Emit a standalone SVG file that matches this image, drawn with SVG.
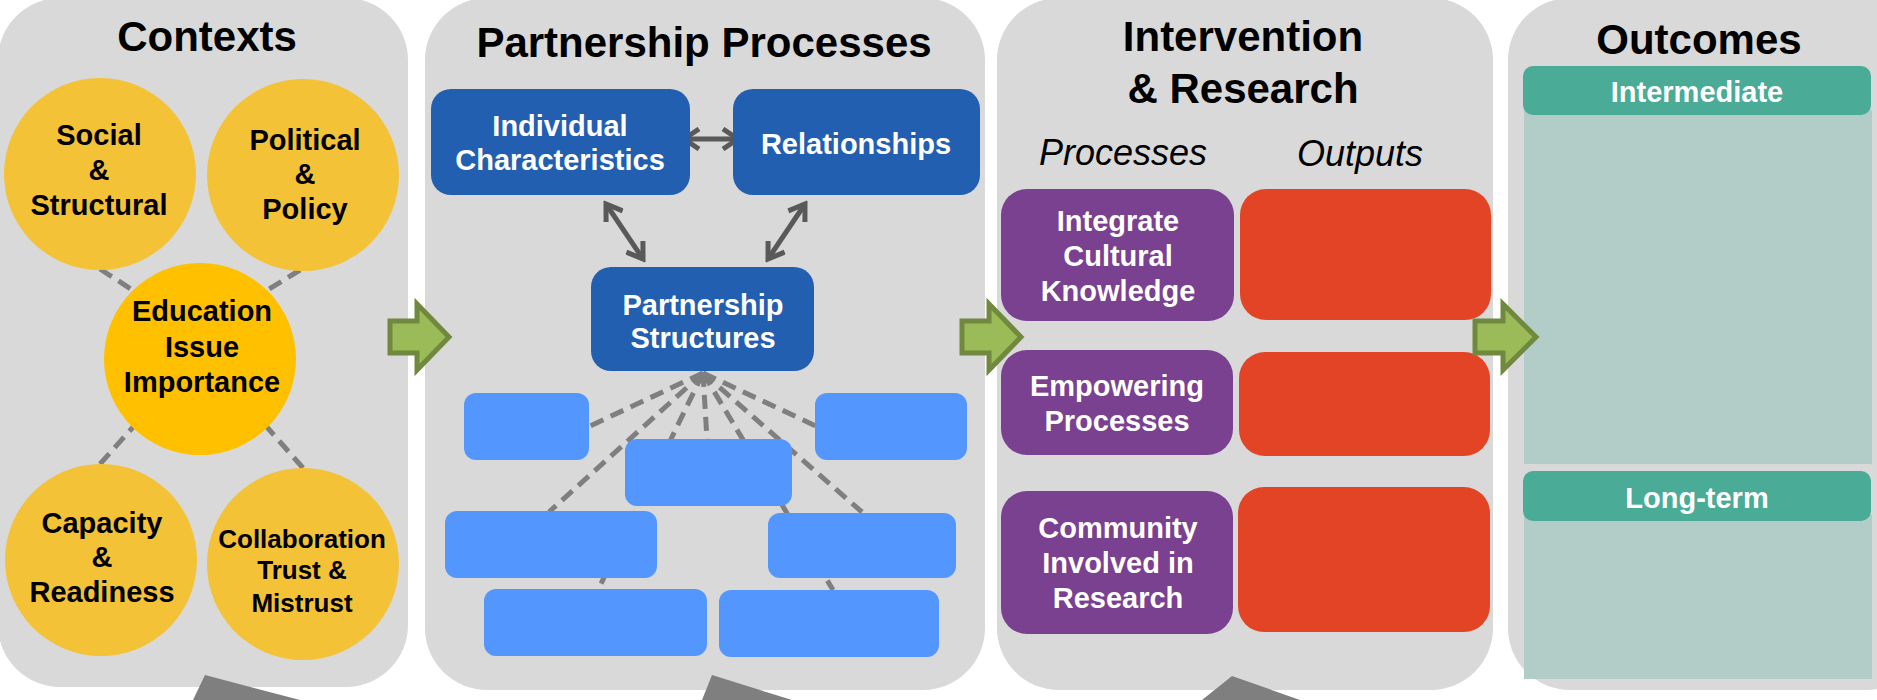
<svg xmlns="http://www.w3.org/2000/svg" width="1877" height="700" viewBox="0 0 1877 700">
<defs>
<style>
.panel{fill:#d9d9d9}
.title{font-family:"Liberation Sans",Arial,sans-serif;font-weight:bold;font-size:42px;fill:#000;text-anchor:middle}
.ctx{fill:#f4c237}
.ctxc{fill:#ffc000}
.ctxt{font-family:"Liberation Sans",Arial,sans-serif;font-weight:bold;font-size:29px;fill:#000;text-anchor:middle}
.dark{fill:#225fb0}
.light{fill:#5397fe}
.wt{font-family:"Liberation Sans",Arial,sans-serif;font-weight:bold;font-size:29px;fill:#fff;text-anchor:middle}
.purple{fill:#7a4190}
.red{fill:#e34425}
.sub{font-family:"Liberation Sans",Arial,sans-serif;font-style:italic;font-size:36px;fill:#000;text-anchor:middle}
.hdr{fill:#4aab96}
.body{fill:#b2cdc7}
.dash{stroke:#7f7f7f;stroke-width:5;stroke-dasharray:14 8;fill:none}
.dbl{stroke:#595959;stroke-width:5;fill:none;marker-start:url(#chev);marker-end:url(#chev)}
.green{fill:#9bbb59;stroke:#71893f;stroke-width:5}
.gray{fill:#7f7f7f}
</style>
<marker id="chev" viewBox="0 0 24 24" refX="20" refY="12" markerWidth="24" markerHeight="24" markerUnits="userSpaceOnUse" orient="auto-start-reverse">
<path d="M5,2 L20,12 L5,22" fill="none" stroke="#595959" stroke-width="5"/>
</marker>
</defs>

<g id="panel-contexts">
<rect class="panel" x="-2" y="-2" width="410" height="689" rx="62"/>
<text class="title" x="207" y="51">Contexts</text>
</g>
<g id="panel-partnership">
<rect class="panel" x="425" y="-2" width="560" height="692" rx="62"/>
<text class="title" x="704" y="57">Partnership Processes</text>
</g>
<g id="panel-intervention">
<rect class="panel" x="997" y="-2" width="496" height="692" rx="62"/>
<text class="title" x="1243" y="51">Intervention</text>
<text class="title" x="1243" y="103">&amp; Research</text>
<text class="sub" x="1123" y="165">Processes</text>
<text class="sub" x="1360" y="166">Outputs</text>
</g>
<g id="panel-outcomes">
<rect class="panel" x="1508" y="-2" width="420" height="692" rx="62"/>
<text class="title" x="1699" y="54">Outcomes</text>
</g>

<g id="connectors">
<line class="dash" x1="100" y1="269" x2="134" y2="291"/>
<line class="dash" x1="300" y1="270" x2="266" y2="291"/>
<line class="dash" x1="100" y1="464" x2="134" y2="426"/>
<line class="dash" x1="303" y1="468" x2="266" y2="426"/>
<line class="dash" x1="703" y1="373" x2="590" y2="426"/>
<line class="dash" x1="703" y1="373" x2="549" y2="512"/>
<line class="dash" x1="703" y1="373" x2="598" y2="590"/>
<line class="dash" x1="703" y1="373" x2="707" y2="440"/>
<line class="dash" x1="703" y1="373" x2="833" y2="590"/>
<line class="dash" x1="703" y1="373" x2="862" y2="512"/>
<line class="dash" x1="703" y1="373" x2="816" y2="426"/>
<line class="dbl" x1="684" y1="139" x2="738" y2="139"/>
<line class="dbl" x1="606" y1="204" x2="643" y2="259"/>
<line class="dbl" x1="805" y1="204" x2="768" y2="259"/>
</g>

<g id="node-social">
<circle class="ctx" cx="100" cy="174" r="96"/>
<text class="ctxt" x="99" y="145">Social</text>
<text class="ctxt" x="99" y="180">&amp;</text>
<text class="ctxt" x="99" y="215">Structural</text>
</g>
<g id="node-political">
<circle class="ctx" cx="303" cy="175" r="96"/>
<text class="ctxt" x="305" y="150">Political</text>
<text class="ctxt" x="305" y="184">&amp;</text>
<text class="ctxt" x="305" y="219">Policy</text>
</g>
<g id="node-capacity">
<circle class="ctx" cx="101" cy="560" r="96"/>
<text class="ctxt" x="102" y="533">Capacity</text>
<text class="ctxt" x="102" y="567">&amp;</text>
<text class="ctxt" x="102" y="602">Readiness</text>
</g>
<g id="node-collaboration">
<circle class="ctx" cx="303" cy="564" r="96"/>
<text class="ctxt" x="302" y="548" style="font-size:26px">Collaboration</text>
<text class="ctxt" x="302" y="579" style="font-size:26px">Trust &amp;</text>
<text class="ctxt" x="302" y="612" style="font-size:26px">Mistrust</text>
</g>
<g id="node-education">
<circle class="ctxc" cx="200" cy="359" r="96"/>
<text class="ctxt" x="202" y="321">Education</text>
<text class="ctxt" x="202" y="357">Issue</text>
<text class="ctxt" x="202" y="392">Importance</text>
</g>

<g id="node-individual">
<rect class="dark" x="431" y="89" width="259" height="106" rx="20"/>
<text class="wt" x="560" y="136">Individual</text>
<text class="wt" x="560" y="170">Characteristics</text>
</g>
<g id="node-relationships">
<rect class="dark" x="733" y="89" width="247" height="106" rx="20"/>
<text class="wt" x="856" y="154">Relationships</text>
</g>
<g id="node-structures">
<rect class="dark" x="591" y="267" width="223" height="104" rx="20"/>
<text class="wt" x="703" y="315">Partnership</text>
<text class="wt" x="703" y="348">Structures</text>
</g>
<g id="node-b1"><rect class="light" x="464" y="393" width="125" height="67" rx="12"/></g>
<g id="node-b2"><rect class="light" x="815" y="393" width="152" height="67" rx="12"/></g>
<g id="node-b3"><rect class="light" x="625" y="439" width="167" height="67" rx="12"/></g>
<g id="node-b4"><rect class="light" x="445" y="511" width="212" height="67" rx="12"/></g>
<g id="node-b5"><rect class="light" x="768" y="513" width="188" height="65" rx="12"/></g>
<g id="node-b6"><rect class="light" x="484" y="589" width="223" height="67" rx="12"/></g>
<g id="node-b7"><rect class="light" x="719" y="590" width="220" height="67" rx="12"/></g>

<g id="node-integrate">
<rect class="purple" x="1001" y="189" width="233" height="132" rx="26"/>
<text class="wt" x="1118" y="231">Integrate</text>
<text class="wt" x="1118" y="266">Cultural</text>
<text class="wt" x="1118" y="301">Knowledge</text>
</g>
<g id="node-empowering">
<rect class="purple" x="1001" y="350" width="232" height="105" rx="26"/>
<text class="wt" x="1117" y="396">Empowering</text>
<text class="wt" x="1117" y="431">Processes</text>
</g>
<g id="node-community">
<rect class="purple" x="1001" y="491" width="232" height="143" rx="26"/>
<text class="wt" x="1118" y="538">Community</text>
<text class="wt" x="1118" y="573">Involved in</text>
<text class="wt" x="1118" y="608">Research</text>
</g>
<g id="node-out1"><rect class="red" x="1240" y="189" width="251" height="131" rx="26"/></g>
<g id="node-out2"><rect class="red" x="1239" y="352" width="251" height="104" rx="26"/></g>
<g id="node-out3"><rect class="red" x="1238" y="487" width="252" height="145" rx="26"/></g>

<g id="node-intermediate">
<rect class="body" x="1524" y="110" width="348" height="354"/>
<rect class="hdr" x="1523" y="66" width="348" height="49" rx="10"/>
<text class="wt" x="1697" y="102">Intermediate</text>
</g>
<g id="node-longterm">
<rect class="body" x="1524" y="515" width="348" height="164"/>
<rect class="hdr" x="1523" y="471" width="348" height="50" rx="10"/>
<text class="wt" x="1697" y="508">Long-term</text>
</g>

<g id="flow-arrows">
<polygon class="green" points="390,321 417,321 417,304 449,337 417,370 417,353 390,353"/>
<polygon class="green" points="962,321 989,321 989,304 1021,337 989,370 989,353 962,353"/>
<polygon class="green" points="1475,321 1503,321 1503,304 1536,337 1503,370 1503,353 1475,353"/>
<polygon class="gray" points="193,700 205,675 300,700"/>
<polygon class="gray" points="702,700 712,675 792,700"/>
<polygon class="gray" points="1202,700 1232,676 1300,700"/>
</g>
</svg>
